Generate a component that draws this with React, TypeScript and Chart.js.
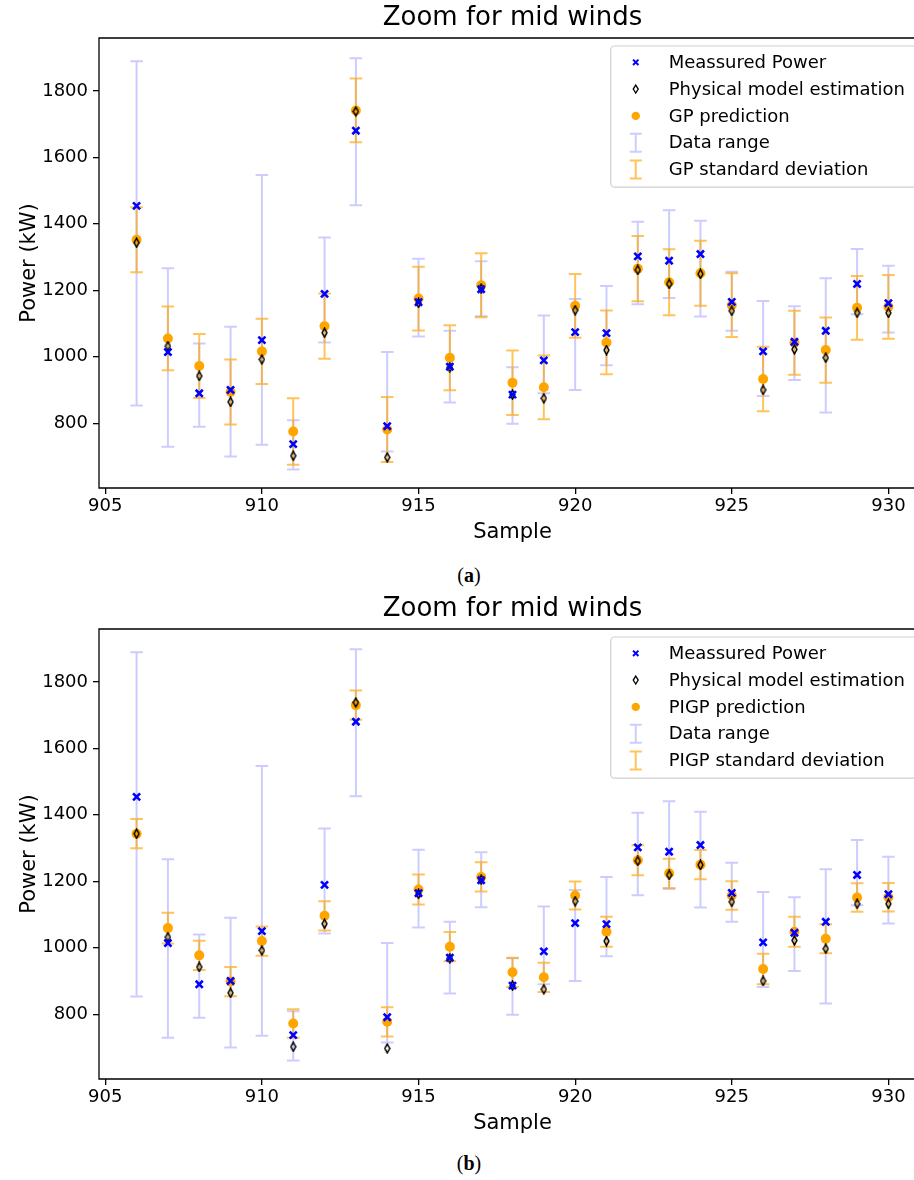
import React, { useEffect, useRef } from 'react';
import { Chart, registerables } from 'chart.js';

Chart.register(...registerables);

// Sample indices shown in the zoomed window
const samples = [906, 907, 908, 909, 910, 911, 912, 913, 914, 915, 916, 917, 918, 919, 920, 921, 922, 923, 924, 925, 926, 927, 928, 929, 930];

// Measured turbine power (kW)
const measuredPower = [1454, 1014, 890, 900, 1050, 737, 1189, 1680, 791, 1164, 970, 1203, 886, 989, 1074, 1071, 1302, 1289, 1309, 1165, 1016, 1045, 1078, 1219, 1161];

// Physical power-curve model estimate (kW)
const physicalModel = [1343, 1032, 942, 864, 992, 702, 1072, 1738, 697, 1162, 968, 1205, 886, 875, 1140, 1020, 1261, 1219, 1249, 1138, 900, 1022, 997, 1132, 1132];

// Range of measured power within each sample (kW)
const rangeLow = [853, 729, 789, 700, 735, 661, 1043, 1456, 715, 1061, 862, 1122, 798, 890, 900, 974, 1158, 1177, 1121, 1078, 882, 930, 832, 1128, 1073];
const rangeHigh = [1889, 1266, 1040, 1090, 1547, 809, 1359, 1898, 1014, 1295, 1078, 1287, 968, 1124, 1174, 1213, 1406, 1441, 1409, 1256, 1168, 1152, 1236, 1324, 1274];

// Plain GP prediction and its standard deviation (kW)
const gpMean = [1352, 1055, 972, 894, 1016, 775, 1092, 1741, 781, 1175, 997, 1215, 922, 908, 1153, 1043, 1265, 1224, 1251, 1155, 933, 1042, 1020, 1147, 1150];
const gpStd = [98, 96, 96, 98, 98, 100, 98, 96, 98, 96, 98, 96, 97, 96, 96, 96, 98, 99, 98, 96, 97, 96, 98, 96, 96];

// Physics-informed GP prediction and its standard deviation (kW)
const pigpMean = [1343, 1059, 977, 898, 1020, 772, 1096, 1730, 777, 1175, 1003, 1213, 926, 911, 1157, 1048, 1263, 1224, 1250, 1157, 936, 1048, 1027, 1151, 1152];
const pigpStd = [44, 46, 44, 44, 44, 43, 44, 44, 44, 45, 44, 44, 44, 44, 42, 45, 45, 44, 44, 43, 46, 45, 44, 43, 43];

// Axis ticks and limits
const xTicks = [905, 910, 915, 920, 925, 930];
const yTicks = [800, 1000, 1200, 1400, 1600, 1800];
const X_MIN = 904.8;
const X_MAX = 931.2;
const Y_MIN = 605;
const Y_MAX = 1959;

const FAMILY = 'DejaVu Sans';
const RANGE_COLOR = 'rgba(0, 0, 255, 0.2)';
const STD_COLOR = 'rgba(255, 165, 0, 0.65)';
const CANVAS_W = 930;
const CANVAS_H = 560;
const TITLE_SIZE = 26;

function makeThinDiamond(w: number, h: number, lw: number): HTMLCanvasElement {
  const c = document.createElement('canvas');
  c.width = w;
  c.height = h;
  const g = c.getContext('2d')!;
  g.strokeStyle = '#000';
  g.lineWidth = lw;
  const p = lw / 2 + 0.3;
  g.beginPath();
  g.moveTo(w / 2, p);
  g.lineTo(w - p, h / 2);
  g.lineTo(w / 2, h - p);
  g.lineTo(p, h / 2);
  g.closePath();
  g.stroke();
  return c;
}

// Vertical error bars with caps, drawn underneath the scatter markers
const errorBarPlugin = {
  id: 'errorBars',
  beforeDatasetsDraw(chart: any) {
    const { ctx, chartArea, scales } = chart;
    const xs = scales.x;
    const ys = scales.y;
    ctx.save();
    ctx.beginPath();
    ctx.rect(chartArea.left, chartArea.top, chartArea.right - chartArea.left, chartArea.bottom - chartArea.top);
    ctx.clip();
    chart.data.datasets.forEach((ds: any) => {
      if (!ds.errorLow) return;
      ctx.strokeStyle = ds.errorColor;
      ctx.lineWidth = 2;
      const cap = 6.3;
      ds.data.forEach((pt: any, i: number) => {
        const px = xs.getPixelForValue(pt.x);
        const yLo = ys.getPixelForValue(ds.errorLow[i]);
        const yHi = ys.getPixelForValue(ds.errorHigh[i]);
        ctx.beginPath();
        ctx.moveTo(px, yLo);
        ctx.lineTo(px, yHi);
        ctx.moveTo(px - cap, yLo);
        ctx.lineTo(px + cap, yLo);
        ctx.moveTo(px - cap, yHi);
        ctx.lineTo(px + cap, yHi);
        ctx.stroke();
      });
    });
    ctx.restore();
  },
};

// Axes spines: left, bottom and top (the right one lies past the page edge)
const framePlugin = {
  id: 'frame',
  afterDatasetsDraw(chart: any) {
    const { ctx, chartArea } = chart;
    const { left, top, right, bottom } = chartArea;
    ctx.save();
    ctx.strokeStyle = '#000';
    ctx.lineWidth = 1.3;
    ctx.beginPath();
    ctx.moveTo(right + 2, top);
    ctx.lineTo(left, top);
    ctx.lineTo(left, bottom);
    ctx.lineTo(right + 2, bottom);
    ctx.stroke();
    ctx.restore();
  },
};

function drawGlyph(ctx: CanvasRenderingContext2D, kind: string, cx: number, cy: number, color: string) {
  ctx.save();
  if (kind === 'cross') {
    ctx.strokeStyle = color;
    ctx.lineWidth = 2;
    const r = 2.7;
    ctx.beginPath();
    ctx.moveTo(cx - r, cy - r);
    ctx.lineTo(cx + r, cy + r);
    ctx.moveTo(cx + r, cy - r);
    ctx.lineTo(cx - r, cy + r);
    ctx.stroke();
  } else if (kind === 'diamond') {
    ctx.strokeStyle = color;
    ctx.lineWidth = 1.3;
    ctx.beginPath();
    ctx.moveTo(cx, cy - 4);
    ctx.lineTo(cx + 2.5, cy);
    ctx.lineTo(cx, cy + 4);
    ctx.lineTo(cx - 2.5, cy);
    ctx.closePath();
    ctx.stroke();
  } else if (kind === 'dot') {
    ctx.fillStyle = color;
    ctx.beginPath();
    ctx.arc(cx, cy, 4.2, 0, Math.PI * 2);
    ctx.fill();
  } else if (kind === 'bar') {
    ctx.strokeStyle = color;
    ctx.lineWidth = 2;
    const h = 9;
    const cap = 6;
    ctx.beginPath();
    ctx.moveTo(cx, cy - h);
    ctx.lineTo(cx, cy + h);
    ctx.moveTo(cx - cap, cy - h);
    ctx.lineTo(cx + cap, cy - h);
    ctx.moveTo(cx - cap, cy + h);
    ctx.lineTo(cx + cap, cy + h);
    ctx.stroke();
  }
  ctx.restore();
}

// Legend boxed in the upper right corner of the axes
const insetLegendPlugin = {
  id: 'insetLegend',
  afterDraw(chart: any) {
    const { ctx, chartArea } = chart;
    const items = chart.data.datasets;
    ctx.save();
    ctx.font = `18px "${FAMILY}"`;
    const textW = Math.max(...items.map((d: any) => ctx.measureText(d.label).width));
    const rowH = 26.8;
    const w = 58 + textW + 12;
    const right = chartArea.right - 9;
    const left = right - w;
    const top = chartArea.top + 8;
    const h = 34 + rowH * (items.length - 1);
    ctx.beginPath();
    ctx.roundRect(left, top, w, h, 4);
    ctx.fillStyle = 'rgba(255,255,255,0.8)';
    ctx.fill();
    ctx.strokeStyle = '#d0d0d0';
    ctx.lineWidth = 1.2;
    ctx.stroke();
    items.forEach((d: any, i: number) => {
      const cy = top + 16.3 + i * rowH;
      drawGlyph(ctx, d.legendGlyph, left + 25, cy, d.legendColor);
      ctx.fillStyle = '#000';
      ctx.textBaseline = 'middle';
      ctx.textAlign = 'left';
      ctx.fillText(d.label, left + 58, cy + 1);
    });
    ctx.restore();
  },
};

type PanelProps = {
  top: number;
  predLabel: string;
  stdLabel: string;
  predMean: number[];
  predStd: number[];
};

function PowerPanel({ top, predLabel, stdLabel, predMean, predStd }: PanelProps) {
  const ref = useRef<HTMLCanvasElement>(null);

  useEffect(() => {
    const diamond = makeThinDiamond(7, 11, 1.5);
    const points = (vals: number[]) => samples.map((s, i) => ({ x: s, y: vals[i] }));
    const titlePad = 38 - TITLE_SIZE * 1.2;

    const chart = new Chart(ref.current!, {
      type: 'scatter',
      data: {
        datasets: [
          {
            label: 'Meassured Power',
            data: points(measuredPower),
            pointStyle: 'crossRot',
            pointRadius: 5,
            borderWidth: 2.6,
            borderColor: '#0000ff',
            backgroundColor: '#0000ff',
            legendGlyph: 'cross',
            legendColor: '#0000ff',
          } as any,
          {
            label: 'Physical model estimation',
            data: points(physicalModel),
            pointStyle: diamond,
            pointRadius: 5,
            legendGlyph: 'diamond',
            legendColor: '#000000',
          } as any,
          {
            label: predLabel,
            data: points(predMean),
            pointStyle: 'circle',
            pointRadius: 5,
            borderWidth: 0,
            backgroundColor: '#ffa500',
            borderColor: '#ffa500',
            legendGlyph: 'dot',
            legendColor: '#ffa500',
          } as any,
          {
            label: 'Data range',
            data: points(measuredPower),
            pointRadius: 0,
            errorLow: rangeLow,
            errorHigh: rangeHigh,
            errorColor: RANGE_COLOR,
            legendGlyph: 'bar',
            legendColor: RANGE_COLOR,
          } as any,
          {
            label: stdLabel,
            data: points(predMean),
            pointRadius: 0,
            errorLow: predMean.map((m, i) => m - predStd[i]),
            errorHigh: predMean.map((m, i) => m + predStd[i]),
            errorColor: STD_COLOR,
            legendGlyph: 'bar',
            legendColor: STD_COLOR,
          } as any,
        ],
      },
      options: {
        responsive: false,
        animation: false,
        events: [],
        layout: { autoPadding: false, padding: { left: 0, right: CANVAS_W - 926, top: 0, bottom: 0 } },
        plugins: {
          legend: { display: false },
          tooltip: { enabled: false },
          title: {
            display: true,
            text: 'Zoom for mid winds',
            fullSize: false,
            color: '#000',
            font: { family: FAMILY, size: TITLE_SIZE, weight: 'normal' },
            padding: { top: titlePad * 0.35, bottom: titlePad * 0.65 },
          },
        },
        scales: {
          x: {
            type: 'linear',
            min: X_MIN,
            max: X_MAX,
            afterBuildTicks: (s: any) => {
              s.ticks = xTicks.map((v) => ({ value: v }));
            },
            afterFit: (s: any) => {
              s.height = 72;
              s.paddingLeft = 0;
              s.paddingRight = 0;
            },
            ticks: {
              color: '#000',
              font: { family: FAMILY, size: 18 },
              padding: 2,
              maxRotation: 0,
              callback: (v: any) => String(v),
            },
            grid: { drawOnChartArea: false, drawTicks: true, tickLength: 6, color: '#000', lineWidth: 1.3 },
            border: { display: false },
            title: {
              display: true,
              text: 'Sample',
              color: '#000',
              font: { family: FAMILY, size: 21 },
              padding: { top: 0, bottom: 15 },
            },
          },
          y: {
            type: 'linear',
            min: Y_MIN,
            max: Y_MAX,
            afterBuildTicks: (s: any) => {
              s.ticks = yTicks.map((v) => ({ value: v }));
            },
            afterFit: (s: any) => {
              s.width = 99;
            },
            ticks: {
              color: '#000',
              font: { family: FAMILY, size: 18 },
              padding: 5,
              callback: (v: any) => String(v),
            },
            grid: { drawOnChartArea: false, drawTicks: true, tickLength: 6, color: '#000', lineWidth: 1.3 },
            border: { display: false },
            title: {
              display: true,
              text: 'Power (kW)',
              color: '#000',
              font: { family: FAMILY, size: 21 },
              padding: { top: 17, bottom: 0 },
            },
          },
        },
      } as any,
      plugins: [errorBarPlugin, framePlugin, insetLegendPlugin],
    });

    return () => chart.destroy();
  }, []);

  return (
    <canvas
      ref={ref}
      width={CANVAS_W}
      height={CANVAS_H}
      style={{ position: 'absolute', left: 0, top, width: CANVAS_W, height: CANVAS_H, display: 'block' }}
    />
  );
}

function Caption({ top, letter }: { top: number; letter: string }) {
  return (
    <div
      style={{
        position: 'absolute',
        left: 0,
        top,
        width: 938,
        textAlign: 'center',
        fontFamily: '"Liberation Serif", serif',
        fontSize: 20,
        lineHeight: '24px',
        color: '#000',
      }}
    >
      (<b>{letter}</b>)
    </div>
  );
}

export default function App() {
  return (
    <div
      style={{
        position: 'absolute',
        left: 0,
        top: 0,
        width: 914,
        height: 1180,
        overflow: 'hidden',
        background: '#fff',
      }}
    >
      <PowerPanel top={0} predLabel="GP prediction" stdLabel="GP standard deviation" predMean={gpMean} predStd={gpStd} />
      <Caption top={563} letter="a" />
      <PowerPanel top={591} predLabel="PIGP prediction" stdLabel="PIGP standard deviation" predMean={pigpMean} predStd={pigpStd} />
      <Caption top={1151} letter="b" />
    </div>
  );
}
